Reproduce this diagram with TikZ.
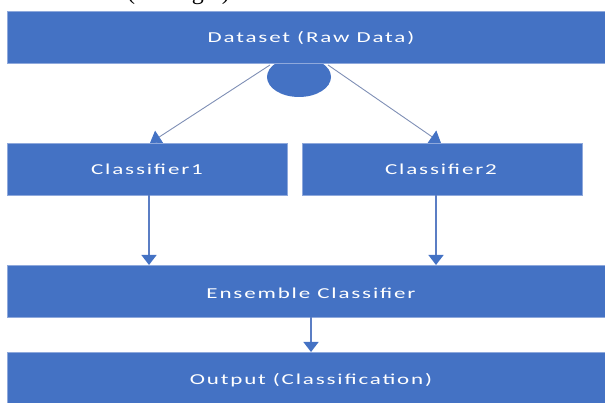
\documentclass[tikz,border=0pt]{standalone}
\usepackage{fontspec}
\setmainfont{Liberation Serif}
\newfontfamily\boxfont[LetterSpace=8]{Carlito}
\usetikzlibrary{arrows.meta}
\definecolor{boxblue}{HTML}{4472C4}
\definecolor{edgeblue}{HTML}{8FA9DC}
\definecolor{linkgray}{HTML}{7F8FB5}
\definecolor{linkblue}{HTML}{5B7EC4}
\tikzset{
  blockbox/.style={fill=boxblue, draw=edgeblue, line width=0.6pt},
  blocklabel/.style={text=white, font=\boxfont\fontsize{23}{25}\selectfont,
    inner sep=0pt, yscale=0.66},
  splitlink/.style={draw=linkgray, line width=0.9pt,
    -{Triangle[width=15pt,length=11pt,color=boxblue,fill=boxblue]}},
  downlink/.style={draw=linkblue, line width=1.3pt,
    -{Triangle[width=15pt,length=10pt,color=boxblue,fill=boxblue]}},
}
\begin{document}
% 1 unit = 1 px; y runs upwards from the bottom edge
\begin{tikzpicture}[x=1pt, y=1pt]
\useasboundingbox (0,0) rectangle (605,403);
\begin{scope}
\clip (0,0) rectangle (605,403);
% tail of the paragraph line above the figure
\node[anchor=base east, inner sep=0pt, font=\fontsize{24}{26}\selectfont] (caption) at (236,403.5) {detected (see Fig.3).};

% split connectors, drawn first so the split point covers their start
\coordinate (splitL) at (270,338);
\coordinate (splitR) at (328,338);
\coordinate (clf1top) at (150,260);
\coordinate (clf2top) at (441,260);
\draw[splitlink] (splitL) -- (clf1top);
\draw[splitlink] (splitR) -- (clf2top);

% split point below the dataset block
\fill[boxblue] (299,326) ellipse [x radius=32, y radius=20];
\coordinate (split) at (299,326);

% blocks
\path[blockbox] (7,392) rectangle (606,340);
\node[blocklabel] (dataset) at (311,365) {Dataset (Raw Data)};

\path[blockbox] (7,260) rectangle (287,208);
\node[blocklabel] (clf1) at (147,234) {Classifier1};
\coordinate (clf1bot) at (149,208);

\path[blockbox] (302,260) rectangle (582,208);
\node[blocklabel] (clf2) at (441,234) {Classifier2};
\coordinate (clf2bot) at (436,208);

\path[blockbox] (7,138) rectangle (606,86);
\node[blocklabel] (ens) at (311,110) {Ensemble Classifier};
\coordinate (ens1top) at (149,138);
\coordinate (ens2top) at (436,138);
\coordinate (ensbot) at (311,86);

\path[blockbox] (7,51) rectangle (606,-1);
\node[blocklabel] (out) at (311,23) {Output (Classification)};
\coordinate (outtop) at (311,51);

% connectors between the blocks
\draw[downlink] (clf1bot) -- (ens1top);
\draw[downlink] (clf2bot) -- (ens2top);
\draw[downlink] (ensbot) -- (outtop);
\end{scope}
\end{tikzpicture}
\end{document}
